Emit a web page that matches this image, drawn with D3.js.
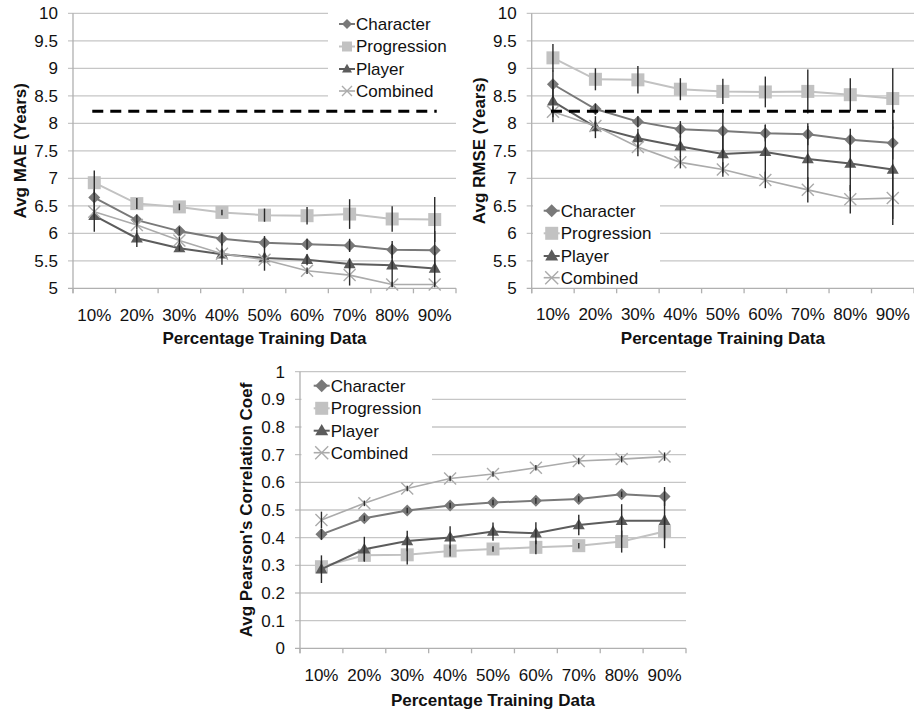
<!DOCTYPE html>
<html>
<head>
<meta charset="utf-8">
<script src="https://cdn.jsdelivr.net/npm/d3@7"></script>
<style>
  body { margin: 0; background: #fff; }
</style>
</head>
<body>
<svg id="chart" width="914" height="713"></svg>
<script>
const categories = ["10%", "20%", "30%", "40%", "50%", "60%", "70%", "80%", "90%"];
const seriesNames = ["Character", "Progression", "Player", "Combined"];

// Avg MAE (years)
const maeCharacter   = [6.65, 6.24, 6.04, 5.90, 5.83, 5.80, 5.78, 5.70, 5.69];
const maeProgression = [6.92, 6.54, 6.48, 6.38, 6.33, 6.32, 6.35, 6.26, 6.25];
const maePlayer      = [6.32, 5.91, 5.73, 5.62, 5.55, 5.52, 5.44, 5.42, 5.36];
const maeCombined    = [6.39, 6.15, 5.87, 5.63, 5.52, 5.32, 5.24, 5.07, 5.07];
const maeErrCharacter   = [0.15, 0.10, 0.08, 0.12, 0.12, 0.10, 0.12, 0.16, 0.35];
const maeErrProgression = [0.22, 0.10, 0.06, 0.05, 0.12, 0.16, 0.27, 0.23, 0.41];
const maeErrPlayer      = [0.29, 0.16, 0.05, 0.19, 0.10, 0.10, 0.10, 0.39, 0.30];
const maeErrCombined    = [0.10, 0.08, 0.07, 0.08, 0.20, 0.06, 0.19, 0.05, 0.05];

// Avg RMSE (years)
const rmseCharacter   = [8.71, 8.26, 8.03, 7.89, 7.86, 7.82, 7.80, 7.70, 7.64];
const rmseProgression = [9.19, 8.80, 8.79, 8.62, 8.58, 8.57, 8.58, 8.52, 8.45];
const rmsePlayer      = [8.40, 7.93, 7.73, 7.58, 7.44, 7.48, 7.35, 7.27, 7.16];
const rmseCombined    = [8.21, 7.95, 7.57, 7.29, 7.16, 6.97, 6.79, 6.62, 6.64];
const rmseErrCharacter   = [0.25, 0.10, 0.10, 0.15, 0.40, 0.15, 0.20, 0.20, 0.30];
const rmseErrProgression = [0.25, 0.20, 0.25, 0.20, 0.23, 0.28, 0.40, 0.30, 0.55];
const rmseErrPlayer      = [0.38, 0.20, 0.17, 0.20, 0.35, 0.50, 0.60, 0.50, 0.90];
const rmseErrCombined    = [0.10, 0.10, 0.17, 0.11, 0.13, 0.15, 0.23, 0.26, 0.49];

// Avg Pearson's correlation coefficient
const pearsonCharacter   = [0.412, 0.470, 0.498, 0.516, 0.527, 0.533, 0.540, 0.557, 0.549];
const pearsonProgression = [0.295, 0.336, 0.338, 0.352, 0.359, 0.365, 0.371, 0.386, 0.422];
const pearsonPlayer      = [0.286, 0.358, 0.388, 0.401, 0.422, 0.416, 0.446, 0.461, 0.461];
const pearsonCombined    = [0.464, 0.524, 0.578, 0.614, 0.630, 0.653, 0.677, 0.684, 0.693];
const pearsonErrCharacter   = [0.02, 0.01, 0.01, 0.01, 0.01, 0.01, 0.01, 0.01, 0.034];
const pearsonErrProgression = [0.02, 0.02, 0.035, 0.02, 0.01, 0.025, 0.01, 0.04, 0.06];
const pearsonErrPlayer      = [0.05, 0.045, 0.037, 0.04, 0.033, 0.04, 0.037, 0.06, 0.07];
const pearsonErrCombined    = [0.03, 0.01, 0.01, 0.01, 0.01, 0.01, 0.012, 0.012, 0.015];

const baselineMae = 8.22;
const baselineRmse = 8.22;

const yearTicks = [5, 5.5, 6, 6.5, 7, 7.5, 8, 8.5, 9, 9.5, 10];
const pearsonTicks = [0, 0.1, 0.2, 0.3, 0.4, 0.5, 0.6, 0.7, 0.8, 0.9, 1];

const FONT = "'Liberation Sans', Arial, Helvetica, sans-serif";
const FS = 17;
const styles = {
  Character:   { color: "#797979", marker: "diamond",  width: 2 },
  Progression: { color: "#c2c2c2", marker: "square",   width: 2 },
  Player:      { color: "#5c5c5c", marker: "triangle", width: 2 },
  Combined:    { color: "#ababab", marker: "x",        width: 1.6 }
};

const svg = d3.select("#chart");

function markerPath(type, s) {
  if (type === "diamond") return `M0,${-s}L${s},0L0,${s}L${-s},0Z`;
  if (type === "square") return `M${-s},${-s}H${s}V${s}H${-s}Z`;
  if (type === "triangle") return `M0,${-s * 1.05}L${s},${s * 0.7}L${-s},${s * 0.7}Z`;
  return `M${-s},${-s}L${s},${s}M${s},${-s}L${-s},${s}`;
}

function drawMarker(g, type, color, cx, cy, s) {
  const p = g.append("path")
    .attr("d", markerPath(type, s))
    .attr("transform", `translate(${cx},${cy})`);
  if (type === "x") p.attr("fill", "none").attr("stroke", color).attr("stroke-width", 1.4);
  else p.attr("fill", color);
}

function drawPanel(p) {
  const g = svg.append("g");
  const x = d3.scaleBand().domain(categories).range([p.left, p.right]);
  const y = d3.scaleLinear().domain(p.domain).range([p.bottom, p.top]);
  const cx = c => x(c) + x.bandwidth() / 2;

  // gridlines
  g.append("g").selectAll("line").data(p.ticks.slice(1)).join("line")
    .attr("x1", p.left - 5).attr("x2", p.right)
    .attr("y1", d => y(d)).attr("y2", d => y(d))
    .attr("stroke", "#c6c6c6").attr("stroke-width", 1.3);

  // y axis labels
  g.append("g").attr("transform", `translate(${p.left},0)`)
    .call(d3.axisLeft(y).tickValues(p.ticks).tickFormat(d3.format("~g")).tickSize(0).tickPadding(15))
    .call(a => a.select(".domain").remove())
    .attr("font-family", FONT).attr("font-size", FS)
    .selectAll("text").attr("fill", "#111");

  // x axis line + ticks at band edges
  g.append("line").attr("x1", p.left - 5).attr("x2", p.right)
    .attr("y1", p.bottom).attr("y2", p.bottom)
    .attr("stroke", "#b0b0b0").attr("stroke-width", 1.3);
  const edges = categories.map(c => x(c)).concat([p.right]);
  g.append("g").selectAll("line").data(edges).join("line")
    .attr("x1", d => d).attr("x2", d => d)
    .attr("y1", p.bottom).attr("y2", p.bottom + 5)
    .attr("stroke", "#b0b0b0").attr("stroke-width", 1.3);
  g.append("line").attr("x1", p.left).attr("x2", p.left)
    .attr("y1", p.top).attr("y2", p.bottom + 5)
    .attr("stroke", "#b0b0b0").attr("stroke-width", 1.3);

  // x axis labels
  g.append("g").attr("transform", `translate(0,${p.bottom})`)
    .call(d3.axisBottom(x).tickSize(0).tickPadding(p.xPad))
    .call(a => a.select(".domain").remove())
    .attr("font-family", FONT).attr("font-size", FS)
    .selectAll("text").attr("fill", "#111");

  // axis titles
  g.append("text")
    .attr("x", (p.left + p.right) / 2).attr("y", p.xTitleY)
    .attr("text-anchor", "middle").attr("font-family", FONT)
    .attr("font-size", FS).attr("font-weight", "bold").attr("fill", "#111")
    .text("Percentage Training Data");
  g.append("text")
    .attr("transform", `translate(${p.yTitleX},${(p.top + p.bottom) / 2}) rotate(-90)`)
    .attr("text-anchor", "middle").attr("dy", "0.35em").attr("font-family", FONT)
    .attr("font-size", FS).attr("font-weight", "bold").attr("fill", "#111")
    .text(p.yTitle);

  // legend box (white, hides gridlines)
  const lg = g.append("g");
  lg.append("rect")
    .attr("x", p.legend.x0).attr("y", p.legend.y0)
    .attr("width", p.legend.x1 - p.legend.x0).attr("height", p.legend.y1 - p.legend.y0)
    .attr("fill", "#fff");

  // series
  const line = d3.line().x((d, i) => cx(categories[i])).y(d => y(d));
  p.series.forEach((vals, si) => {
    const st = styles[seriesNames[si]];
    g.append("path").datum(vals)
      .attr("d", line).attr("fill", "none")
      .attr("stroke", st.color).attr("stroke-width", st.width);
    vals.forEach((v, i) => drawMarker(g, st.marker, st.color, cx(categories[i]), y(v), st.marker === "square" ? 6.5 : 6));
  });

  // error bars
  const [lo, hi] = p.domain;
  p.errors.forEach((errs, si) => {
    g.append("g").selectAll("line").data(errs).join("line")
      .attr("x1", (d, i) => cx(categories[i])).attr("x2", (d, i) => cx(categories[i]))
      .attr("y1", (d, i) => y(Math.min(hi, p.series[si][i] + d)))
      .attr("y2", (d, i) => y(Math.max(lo, p.series[si][i] - d)))
      .attr("stroke", "#2a2a2a").attr("stroke-width", 1.4);
  });

  // dashed baseline
  if (p.baseline != null) {
    g.append("line")
      .attr("x1", cx(categories[0]) - 2).attr("x2", cx(categories[categories.length - 1]) + 2)
      .attr("y1", y(p.baseline)).attr("y2", y(p.baseline))
      .attr("stroke", "#000").attr("stroke-width", 3).attr("stroke-dasharray", "11,7");
  }

  // legend entries
  seriesNames.forEach((name, i) => {
    const st = styles[name];
    const ly = p.legend.rows[i];
    lg.append("line")
      .attr("x1", p.legend.mx - 8).attr("x2", p.legend.mx + 8)
      .attr("y1", ly).attr("y2", ly)
      .attr("stroke", st.color).attr("stroke-width", st.width);
    drawMarker(lg, st.marker, st.color, p.legend.mx, ly, p.legend.ms);
    lg.append("text")
      .attr("x", p.legend.mx + 9).attr("y", ly).attr("dy", "0.35em")
      .attr("font-family", FONT).attr("font-size", FS).attr("fill", "#111")
      .text(name);
  });
  svg.node().appendChild(lg.node());
}

drawPanel({
  left: 73, right: 456, top: 13.3, bottom: 288.3,
  domain: [5, 10], ticks: yearTicks, xPad: 21,
  xTitleY: 344, yTitleX: 20, yTitle: "Avg MAE (Years)",
  series: [maeCharacter, maeProgression, maePlayer, maeCombined],
  errors: [maeErrCharacter, maeErrProgression, maeErrPlayer, maeErrCombined],
  baseline: baselineMae,
  legend: { x0: 328, x1: 462, y0: 8, y1: 101, mx: 347, ms: 5, rows: [24, 46.5, 69, 91] }
});

drawPanel({
  left: 531.7, right: 914, top: 13.3, bottom: 288.3,
  domain: [5, 10], ticks: yearTicks, xPad: 20,
  xTitleY: 344, yTitleX: 479.5, yTitle: "Avg RMSE (Years)",
  series: [rmseCharacter, rmseProgression, rmsePlayer, rmseCombined],
  errors: [rmseErrCharacter, rmseErrProgression, rmseErrPlayer, rmseErrCombined],
  baseline: baselineRmse,
  legend: { x0: 533, x1: 660, y0: 198, y1: 287, mx: 551.7, ms: 6.5, rows: [210.7, 233.3, 256, 277.7] }
});

drawPanel({
  left: 300, right: 686, top: 371.7, bottom: 648.3,
  domain: [0, 1], ticks: pearsonTicks, xPad: 21,
  xTitleY: 706, yTitleX: 246, yTitle: "Avg Pearson's Correlation Coef",
  series: [pearsonCharacter, pearsonProgression, pearsonPlayer, pearsonCombined],
  errors: [pearsonErrCharacter, pearsonErrProgression, pearsonErrPlayer, pearsonErrCombined],
  baseline: null,
  legend: { x0: 301.5, x1: 432, y0: 373.5, y1: 465, mx: 321.7, ms: 6.5, rows: [385.7, 408.3, 430.7, 452.7] }
});
</script>
</body>
</html>
